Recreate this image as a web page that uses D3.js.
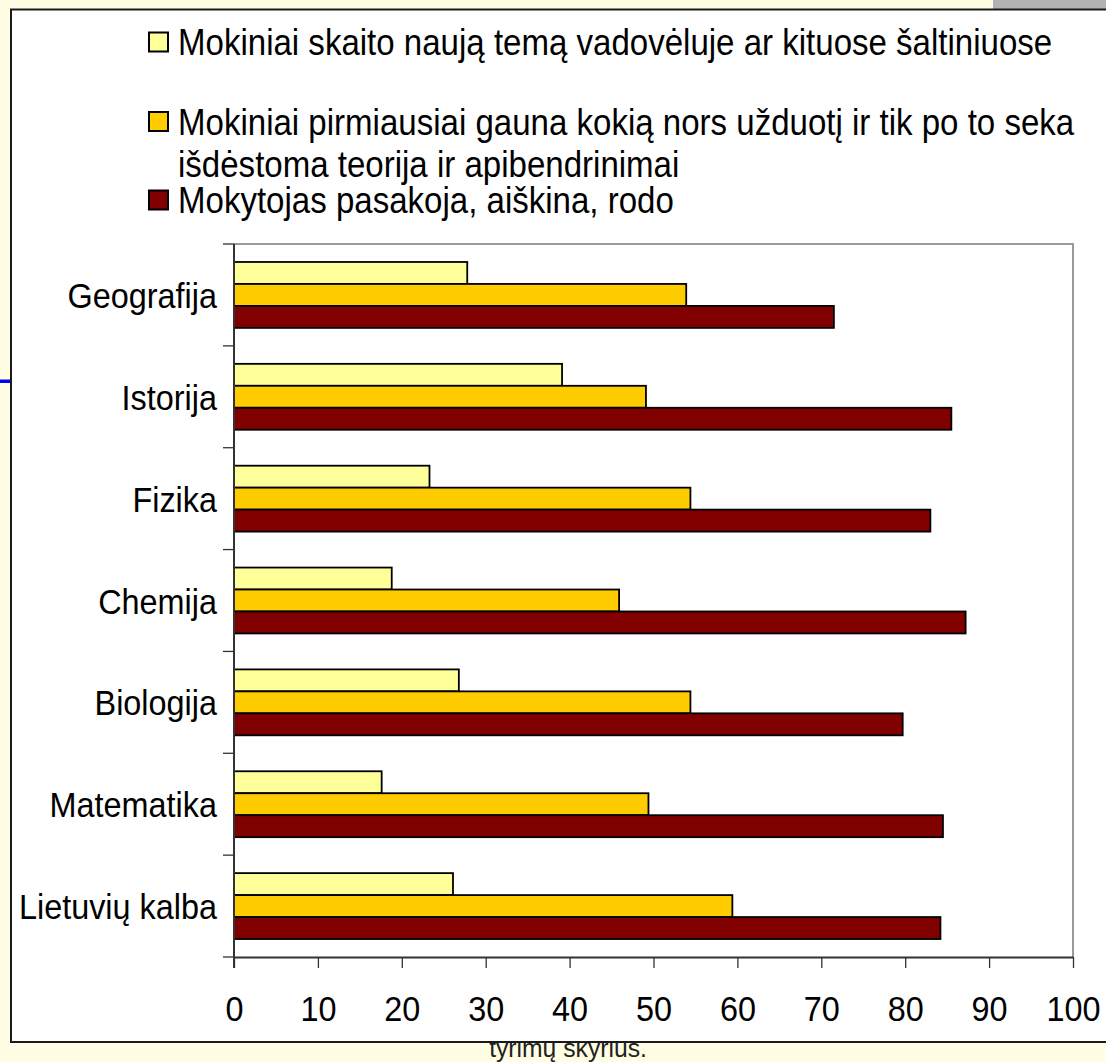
<!DOCTYPE html>
<html>
<head>
<meta charset="utf-8">
<script src="https://cdn.jsdelivr.net/npm/d3@7"></script>
<style>
  html, body { margin: 0; padding: 0; background: #FFFDE3; }
  svg { display: block; }
  text { font-family: "Liberation Sans", Arial, sans-serif; fill: #000; }
</style>
</head>
<body>
<svg id="chart" width="1106" height="1062"></svg>
<script>
// Subjects, top to bottom
const categories = ["Geografija", "Istorija", "Fizika", "Chemija", "Biologija", "Matematika", "Lietuvių kalba"];

// Share of answers (%) per teaching approach
const readsNewTopic   = [27.8, 39.1, 23.3, 18.8, 26.8, 17.6, 26.1];
const taskFirst       = [53.9, 49.1, 54.4, 45.9, 54.4, 49.4, 59.4];
const teacherExplains = [71.5, 85.5, 83.0, 87.2, 79.7, 84.5, 84.2];

const seriesKeys = ["readsNewTopic", "taskFirst", "teacherExplains"];
const seriesColors = ["#FFFF99", "#FFCC00", "#800000"];
const legendLines = [
  ["Mokiniai skaito naują temą vadovėluje ar kituose šaltiniuose"],
  ["Mokiniai pirmiausiai gauna kokią nors užduotį ir tik po to seka", "išdėstoma teorija ir apibendrinimai"],
  ["Mokytojas pasakoja, aiškina, rodo"]
];
const xTickValues = [0, 10, 20, 30, 40, 50, 60, 70, 80, 90, 100];

const rows = categories.map((c, i) => ({
  category: c,
  readsNewTopic: readsNewTopic[i],
  taskFirst: taskFirst[i],
  teacherExplains: teacherExplains[i]
}));

const svg = d3.select("#chart");
const W = 1106, H = 1062;
const FONT = 36, SX = 0.9, LEGEND_SX = 0.918;

// page background
svg.append("rect").attr("width", W).attr("height", H).attr("fill", "#FFFDE3");

// footer text partly hidden behind the chart panel
svg.append("text")
  .attr("transform", `translate(568,1057) scale(0.95,1)`)
  .attr("text-anchor", "middle")
  .style("font-size", "26px")
  .style("fill", "#222")
  .text("tyrimų skyrius.");

// grey tab at top right
svg.append("rect").attr("x", 993).attr("y", 0).attr("width", W - 993).attr("height", 10).attr("fill", "#B2B2B2");

// blue rule at the left edge
svg.append("rect").attr("x", 0).attr("y", 379.5).attr("width", 12).attr("height", 3.5).attr("fill", "#0000FF");

// white chart panel
svg.append("rect")
  .attr("x", 11).attr("y", 9.5).attr("width", W + 10).attr("height", 1032.5)
  .attr("fill", "#fff").attr("stroke", "#1a1a1a").attr("stroke-width", 2);

// plot area
const plot = { left: 234, right: 1073, top: 244, bottom: 957 };

const x = d3.scaleLinear().domain([0, 100]).range([plot.left, plot.right]);
const y = d3.scaleBand().domain(categories).range([plot.top, plot.bottom])
  .paddingInner(0.353).paddingOuter(0.1765);
const ySub = d3.scaleBand().domain(seriesKeys).range([0, y.bandwidth()]).padding(0);

// frame: top and right in grey
svg.append("path")
  .attr("d", `M${plot.left},${plot.top}H${plot.right}V${plot.bottom}`)
  .attr("fill", "none").attr("stroke", "#9a9a9a").attr("stroke-width", 2);

// bars
const groups = svg.append("g").selectAll("g").data(rows).join("g")
  .attr("transform", d => `translate(0,${y(d.category)})`);

groups.selectAll("rect")
  .data(d => seriesKeys.map((k, i) => ({ key: k, value: d[k], color: seriesColors[i] })))
  .join("rect")
  .attr("x", x(0))
  .attr("y", d => ySub(d.key))
  .attr("width", d => x(d.value) - x(0))
  .attr("height", ySub.bandwidth())
  .attr("fill", d => d.color)
  .attr("stroke", "#000")
  .attr("stroke-width", 1.8);

// x axis
const xAxis = svg.append("g")
  .attr("transform", `translate(0,${plot.bottom})`)
  .call(d3.axisBottom(x).tickValues(xTickValues).tickSize(11).tickSizeOuter(0).tickPadding(0).tickFormat(d3.format("d")));
xAxis.select(".domain").attr("stroke", "#333").attr("stroke-width", 2);
xAxis.selectAll(".tick line").attr("stroke", "#333").attr("stroke-width", 1.3);
xAxis.selectAll(".tick text")
  .attr("y", 0).attr("dy", null)
  .attr("transform", `translate(0,64) scale(${SX},1)`)
  .style("font-size", FONT + "px")
  .attr("fill", "#000");

// y axis: line, ticks at category boundaries, labels at band centres
const yAxis = svg.append("g");
yAxis.append("line")
  .attr("x1", plot.left).attr("x2", plot.left)
  .attr("y1", plot.top).attr("y2", plot.bottom + 11)
  .attr("stroke", "#333").attr("stroke-width", 2);
const boundaries = categories.map(c => y(c) - y.step() * y.paddingInner() / 2).concat([plot.bottom]);
yAxis.selectAll("line.tick").data(boundaries).join("line")
  .attr("class", "tick")
  .attr("x1", plot.left - 11).attr("x2", plot.left)
  .attr("y1", d => d).attr("y2", d => d)
  .attr("stroke", "#333").attr("stroke-width", 1.3);
yAxis.selectAll("text").data(categories).join("text")
  .attr("transform", d => `translate(217,${y(d) + y.bandwidth() / 2 + 13}) scale(${SX},1)`)
  .attr("text-anchor", "end")
  .style("font-size", FONT + "px")
  .text(d => d);

// legend
const legendTop = [42, 121.5, 200];
const legend = svg.append("g");
legendLines.forEach((lines, i) => {
  const cy = legendTop[i];
  legend.append("rect")
    .attr("x", 149).attr("y", cy - 9.5).attr("width", 19).attr("height", 19)
    .attr("fill", seriesColors[i]).attr("stroke", "#000").attr("stroke-width", 2);
  lines.forEach((t, j) => {
    legend.append("text")
      .attr("transform", `translate(178,${cy + 13 + j * 42}) scale(${LEGEND_SX},1)`)
      .style("font-size", FONT + "px")
      .text(t);
  });
});
</script>
</body>
</html>
